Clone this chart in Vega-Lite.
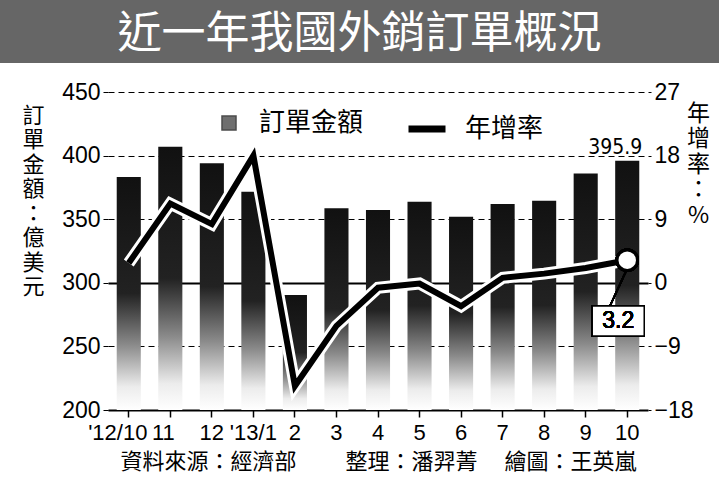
{
  "$schema": "https://vega.github.io/schema/vega-lite/v6.json",
  "padding": 0,
  "spacing": 18,
  "background": "white",
  "config": {
    "view": {"stroke": null},
    "font": "Liberation Sans, Noto Sans CJK TC",
    "axis": {"labelColor": "#000", "titleColor": "#000", "titleFontWeight": "normal", "labelFont": "Liberation Sans", "titleFont": "Noto Sans CJK TC"},
    "legend": {"labelColor": "#000", "labelFont": "Noto Sans CJK TC", "padding": 0}
  },
  "vconcat": [
    {
      "width": 540,
      "height": 63,
      "data": {"values": [{"t": "近一年我國外銷訂單概況"}]},
      "layer": [
        {
          "mark": {"type": "rect", "color": "#666666"},
          "encoding": {
            "x": {"datum": 0, "type": "quantitative", "scale": {"domain": [0, 1], "range": [-108, 611]}, "axis": null},
            "x2": {"datum": 1},
            "y": {"datum": 0, "type": "quantitative", "scale": {"domain": [0, 1]}, "axis": null},
            "y2": {"datum": 1}
          }
        },
        {
          "mark": {"type": "text", "color": "white", "fontSize": 44, "font": "Noto Sans CJK TC", "baseline": "middle", "align": "center"},
          "encoding": {
            "x": {"datum": 0.5, "type": "quantitative"},
            "y": {"datum": 0.45, "type": "quantitative"},
            "text": {"field": "t"}
          }
        }
      ]
    },
    {
      "width": 540,
      "height": 318,
      "data": {
        "values": [
          {"m": "'12/10", "v": 383.2, "r": 2.8},
          {"m": "11", "v": 407.0, "r": 11.2},
          {"m": "12", "v": 394.0, "r": 8.3},
          {"m": "'13/1", "v": 371.6, "r": 18.0},
          {"m": "2", "v": 290.4, "r": -14.6},
          {"m": "3", "v": 358.6, "r": -6.1},
          {"m": "4", "v": 357.2, "r": -0.7},
          {"m": "5", "v": 363.8, "r": -0.1},
          {"m": "6", "v": 352.0, "r": -3.3},
          {"m": "7", "v": 362.0, "r": 0.7},
          {"m": "8", "v": 364.5, "r": 1.3},
          {"m": "9", "v": 386.0, "r": 2.1},
          {"m": "10", "v": 395.9, "r": 3.2}
        ]
      },
      "encoding": {
        "x": {
          "field": "m", "type": "nominal", "sort": null,
          "scale": {"domain": ["'12/10", "11", "12", "'13/1", "2", "3", "4", "5", "6", "7", "8", "9", "10"], "paddingInner": 0.42, "paddingOuter": 0.21},
          "axis": {
            "title": "資料來源：經濟部　　  整理：潘羿菁　  繪圖：王英嵐",
            "titleFontSize": 22, "titleY": 41, "titleBaseline": "top",
            "labelAngle": 0, "labelFontSize": 22, "labelPadding": 5,
            "labelOffset": {"condition": [{"test": "datum.value === \"'12/10\"", "value": -11}, {"test": "datum.value === '11'", "value": -7}], "value": 0},
            "tickSize": 7, "tickColor": "black", "tickWidth": 1.5,
            "domainColor": "black", "domainWidth": 2, "grid": false
          }
        }
      },
      "layer": [
        {
          "layer": [
            {
              "mark": {
                "type": "bar",
                "color": {
                  "gradient": "linear", "x1": 0, "y1": 0, "x2": 0, "y2": 1,
                  "stops": [
                    {"offset": 0, "color": "#111111"},
                    {"offset": 0.5, "color": "#222222"},
                    {"offset": 0.72, "color": "#8a8a8a"},
                    {"offset": 0.9, "color": "#ececec"},
                    {"offset": 1, "color": "#ffffff"}
                  ]
                }
              },
              "encoding": {
                "y": {
                  "field": "v", "type": "quantitative",
                  "scale": {"domain": [200, 450], "nice": false, "zero": false},
                  "axis": {
                    "title": ["訂", "單", "金", "額", "：", "億", "美", "元"],
                    "titleAngle": 0, "titleX": -75, "titleY": 13, "titleAlign": "center", "titleBaseline": "top",
                    "titleFontSize": 22, "titleLineHeight": 24.5,
                    "values": [200, 250, 300, 350, 400, 450],
                    "labelFontSize": 23, "labelPadding": 3, "tickSize": 5, "tickColor": "black",
                    "domain": false, "grid": true, "gridColor": "black", "gridOpacity": 1,
                    "gridWidth": {"condition": {"test": "datum.value === 300", "value": 2}, "value": 1.2},
                    "gridDash": {"condition": {"test": "datum.value === 300", "value": []}, "value": [6, 4]}
                  }
                },
                "y2": {"datum": 200}
              }
            },
            {
              "transform": [{"filter": "datum.m === '10'"}],
              "mark": {"type": "text", "font": "Liberation Sans Narrow, DejaVu Sans Condensed", "fontSize": 21, "baseline": "bottom", "align": "center", "dx": -12, "dy": -3, "color": "black"},
              "encoding": {
                "y": {"field": "v", "type": "quantitative"},
                "text": {"field": "v", "type": "quantitative", "format": ".1f"}
              }
            },
            {
              "data": {"values": []},
              "mark": {"type": "square"},
              "encoding": {
                "fill": {
                  "datum": "訂單金額",
                  "scale": {"range": ["#333333"]},
                  "legend": {
                    "title": null, "orient": "none", "legendX": 108, "legendY": 110,
                    "symbolType": "square", "symbolSize": 196, "symbolStrokeColor": "black", "symbolStrokeWidth": 1.5,
                    "labelFontSize": 26, "labelOffset": 17
                  }
                }
              }
            }
          ]
        },
        {
          "layer": [
            {
              "mark": {"type": "line", "color": "white", "strokeWidth": 12, "strokeJoin": "miter"},
              "encoding": {
                "y": {
                  "field": "r", "type": "quantitative",
                  "scale": {"domain": [-18, 27], "nice": false, "zero": false},
                  "axis": {
                    "orient": "right",
                    "title": ["年", "增", "率", "：", "%"],
                    "titleAngle": 0, "titleX": 50, "titleY": 10, "titleAlign": "center", "titleBaseline": "top",
                    "titleFontSize": 23, "titleLineHeight": 25.5,
                    "values": [-18, -9, 0, 9, 18, 27],
                    "labelFontSize": 23, "labelPadding": 3, "tickSize": 3, "tickColor": "black",
                    "domain": false, "grid": false
                  }
                }
              }
            },
            {
              "mark": {"type": "line", "strokeWidth": 6, "strokeJoin": "miter"},
              "encoding": {
                "y": {"field": "r", "type": "quantitative"},
                "stroke": {
                  "datum": "年增率",
                  "scale": {"range": ["#000000"]},
                  "legend": {
                    "title": null, "orient": "none", "legendX": 297, "legendY": 107,
                    "symbolType": "stroke", "symbolSize": 1369, "symbolStrokeWidth": 7,
                    "labelFontSize": 26, "labelOffset": 16
                  }
                }
              }
            },
            {
              "mark": {"type": "rule", "color": "black", "strokeWidth": 1.5, "x2Offset": -17},
              "encoding": {
                "x": {"datum": "10"},
                "x2": {"datum": "10"},
                "y": {"datum": 2.0, "type": "quantitative"},
                "y2": {"datum": -3.2}
              }
            },
            {
              "mark": {"type": "point", "filled": true, "color": "white", "stroke": "black", "strokeWidth": 3, "size": 420, "opacity": 1},
              "encoding": {
                "x": {"datum": "10"},
                "y": {"datum": 3.2, "type": "quantitative"}
              }
            },
            {
              "mark": {"type": "point", "shape": "M-1,-0.577H1V0.577H-1Z", "size": 2704, "filled": true, "color": "white", "stroke": "black", "strokeWidth": 1.5, "opacity": 1, "xOffset": -9},
              "encoding": {
                "x": {"datum": "10"},
                "y": {"datum": -5.4, "type": "quantitative"}
              }
            },
            {
              "mark": {"type": "text", "text": "3.2", "fontSize": 23, "dx": -9, "color": "black", "baseline": "middle", "align": "center"},
              "encoding": {
                "x": {"datum": "10"},
                "y": {"datum": -5.4, "type": "quantitative"}
              }
            }
          ]
        }
      ],
      "resolve": {"scale": {"y": "independent"}}
    }
  ]
}
